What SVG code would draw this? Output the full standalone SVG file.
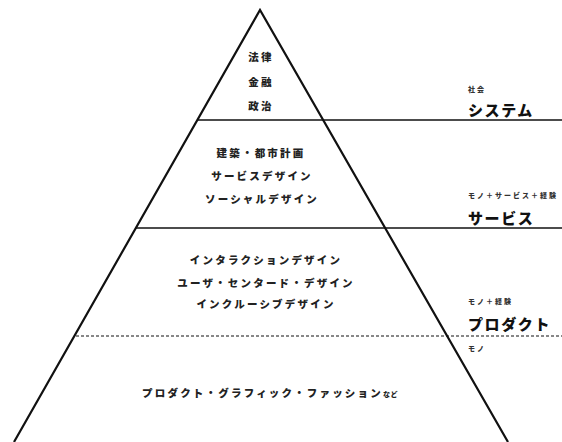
<svg xmlns="http://www.w3.org/2000/svg" width="562" height="442" viewBox="0 0 562 442">
<style>
.t{font-family:"Noto Sans CJK JP","Noto Sans CJK SC",sans-serif;font-weight:900;fill:#222;text-anchor:middle;font-size:10.5px;letter-spacing:2.2px}
.big{font-family:"Noto Sans CJK JP",sans-serif;font-weight:900;fill:#111;font-size:15px;letter-spacing:1.6px}
.sm{font-family:"Noto Sans CJK JP",sans-serif;font-weight:900;fill:#333;font-size:7px;letter-spacing:2px}
.edge{stroke:#111;stroke-width:2.2;fill:none}
.h{stroke:#111;stroke-width:1.6}
.d{stroke:#111;stroke-width:1;stroke-dasharray:3 2}
</style>
<rect width="562" height="442" fill="#fff"/>
<g id="connectors">
<polyline class="edge" points="14,442 260,10 508,442"/>
<line class="h" x1="197" y1="120" x2="562" y2="120"/>
<line class="h" x1="136" y1="228" x2="562" y2="228"/>
<line class="d" x1="76" y1="336" x2="562" y2="336"/>
</g>
<g id="system-tier">
<text class="t" x="261" y="61">法律</text>
<text class="t" x="261" y="86">金融</text>
<text class="t" x="261" y="110">政治</text>
</g>
<g id="service-tier">
<text class="t" x="261" y="157">建築・都市計画</text>
<text class="t" x="262" y="180">サービスデザイン</text>
<text class="t" x="262" y="203">ソーシャルデザイン</text>
</g>
<g id="product-tier">
<text class="t" x="266" y="264">インタラクションデザイン</text>
<text class="t" x="266" y="287">ユーザ・センタード・デザイン</text>
<text class="t" x="266" y="308">インクルーシブデザイン</text>
</g>
<g id="thing-tier">
<text class="t" x="270" y="397">プロダクト・グラフィック・ファッション<tspan font-size="7px" letter-spacing="0.5px">など</tspan></text>
</g>
<g id="label-system">
<text class="sm" x="468" y="92" font-size="5px" letter-spacing="0.5px">社会</text>
<text class="big" x="468" y="116">システム</text>
</g>
<g id="label-service">
<text class="sm" x="468" y="198">モノ＋サービス＋経験</text>
<text class="big" x="468" y="224">サービス</text>
</g>
<g id="label-product">
<text class="sm" x="468" y="304">モノ＋経験</text>
<text class="big" x="468" y="330">プロダクト</text>
</g>
<g id="label-thing">
<text class="sm" x="468" y="351">モノ</text>
</g>
</svg>
